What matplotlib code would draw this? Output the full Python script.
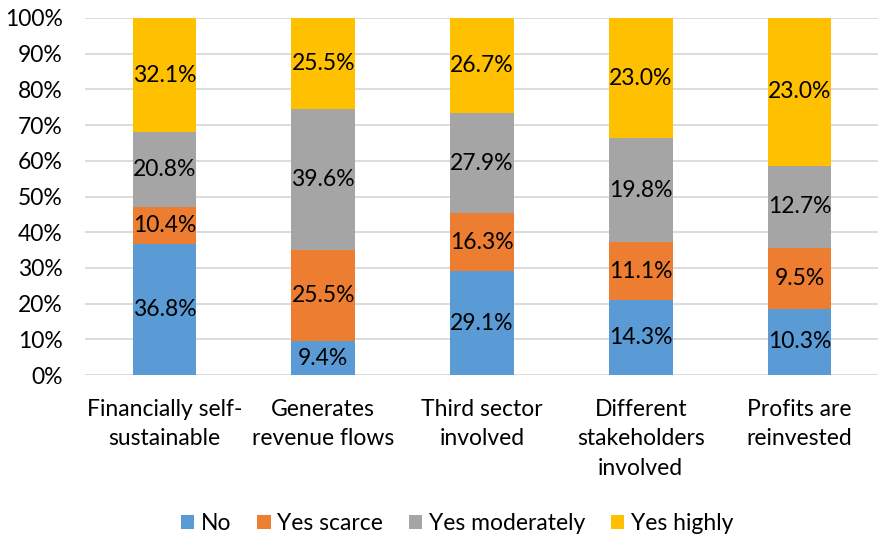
import matplotlib
matplotlib.use("Agg")
import matplotlib.pyplot as plt
import numpy as np

plt.rcParams['font.family'] = ['Lato', 'DejaVu Sans']

categories = ["Financially self-\nsustainable", "Generates\nrevenue flows",
              "Third sector\ninvolved", "Different\nstakeholders\ninvolved",
              "Profits are\nreinvested"]
series_names = ["No", "Yes scarce", "Yes moderately", "Yes highly"]
no_vals = [36.8, 9.4, 29.1, 14.3, 10.3]
scarce_vals = [10.4, 25.5, 16.3, 11.1, 9.5]
moderate_vals = [20.8, 39.6, 27.9, 19.8, 12.7]
highly_vals = [32.1, 25.5, 26.7, 23.0, 23.0]
yticks = [0, 10, 20, 30, 40, 50, 60, 70, 80, 90, 100]
colors = ["#5B9BD5", "#ED7D31", "#A5A5A5", "#FFC000"]

FS = 16.5

data = np.array([no_vals, scarce_vals, moderate_vals, highly_vals])
totals = data.sum(axis=0)
shares = data / totals * 100  # 100% stacked

fig = plt.figure(figsize=(8.79, 5.36), dpi=100)
ax = fig.add_axes([85 / 879, 161 / 536, 1 - 85 / 879, (518 - 161) / 536])

x = np.arange(len(categories))
bottom = np.zeros(len(categories))
for i, name in enumerate(series_names):
    bars = ax.bar(x, shares[i], width=0.4, bottom=bottom, color=colors[i],
                  label=name, zorder=3)
    for j, b in enumerate(bars):
        ax.text(b.get_x() + b.get_width() / 2, bottom[j] + shares[i][j] / 2,
                f"{data[i][j]:.1f}%", ha="center", va="center",
                fontsize=FS, color="#000000", zorder=4)
    bottom += shares[i]

ax.set_xlim(-0.5, len(categories) - 0.5)
ax.set_ylim(0, 100)
ax.set_yticks(yticks)
ax.set_yticklabels([f"{t}%" for t in yticks], fontsize=FS)
ax.set_xticks(x)
ax.set_xticklabels(categories, fontsize=FS, linespacing=1.5)
ax.tick_params(axis="y", length=0, pad=16)
ax.tick_params(axis="x", length=0, pad=17)
ax.yaxis.grid(True, color="#D9D9D9", linewidth=1.3, zorder=0)
for s in ax.spines.values():
    s.set_visible(False)

fig.legend(loc="lower center", bbox_to_anchor=(0.52, -0.035), ncol=4, frameon=False,
           fontsize=FS, handlelength=0.6, handleheight=0.6, handletextpad=0.3,
           columnspacing=1.1)

fig.savefig("out.png", dpi=100)
